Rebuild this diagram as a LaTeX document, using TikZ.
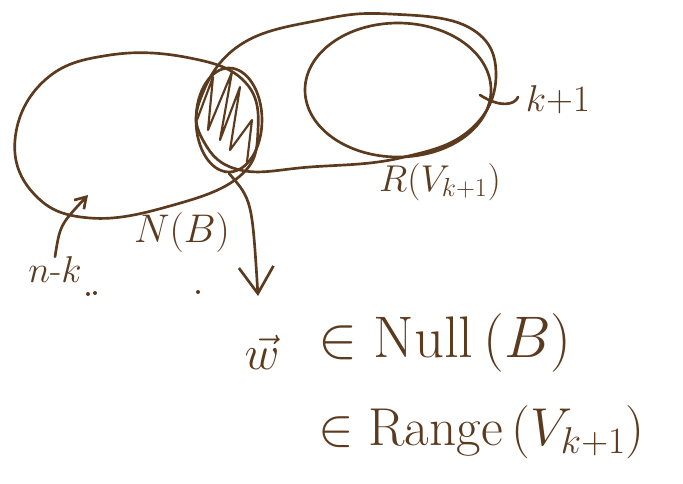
\documentclass[tikz,border=0pt]{standalone}
\usepackage{fix-cm}
\usepackage{fontspec}
\usetikzlibrary{arrows.meta,shapes.geometric}
\definecolor{ink}{HTML}{5B3A1E}
\tikzset{
  pen/.style={draw=ink, line width=2pt, line cap=round, line join=round},
  hand/.style={text=ink, inner sep=0pt},
  dotmark/.style={fill=ink, circle, inner sep=0pt, minimum size=3pt}
}
\begin{document}
\begin{tikzpicture}[x=0.75pt,y=-0.75pt]
\useasboundingbox (0,0) rectangle (683,483);
% left blob N(B)
\draw[pen] plot[smooth cycle, tension=0.7] coordinates {(245,82) (190,58) (110,55) (45,80) (15,140) (35,195) (90,218) (170,206) (240,176) (258,130)};
% big oval R(V_{k+1})
\draw[pen] plot[smooth cycle, tension=0.7] coordinates {(200,100) (240,45) (320,20) (390,14) (470,28) (496,75) (470,130) (400,158) (310,167) (240,170) (204,142)};
% inner circle k+1
\node[pen, ellipse, minimum width=139.5pt, minimum height=100.5pt] (inner) at (398,90) {};
% shaded intersection
\node[pen, ellipse, minimum width=49.5pt, minimum height=78pt] (shade) at (229,120) {};
\draw[pen, line width=1.6pt] (197,120) -- (213,77) -- (208,130) -- (232,72) -- (220,140) -- (240,87) -- (230,150) -- (252,120) -- (247,162);
% arrow down to V
\coordinate (vtip) at (258,296);
\draw[pen, -{Straight Barb[length=20pt,width=26pt,line width=2pt]}] (shade.south) .. controls (252,200) .. (vtip);
% labels
\node[hand, font=\fontsize{28}{32}\selectfont] (nk) at (55,270) {$n$-$k$};
\coordinate (nkend) at (88,195);
\draw[pen, -{Straight Barb[length=8pt,width=10pt]}] (nk.north) .. controls (60,225) .. (nkend);
\node[hand, font=\fontsize{30}{34}\selectfont] (NB) at (182,232) {$N(B)$};
\node[hand, font=\fontsize{28}{32}\selectfont] (RV) at (440,182) {$R(V_{k+1})$};
\node[hand, font=\fontsize{28}{32}\selectfont] (k1) at (558,100) {$k{+}1$};
\coordinate (kstart) at (480,95);
\draw[pen] (kstart) .. controls (500,108) and (515,105) .. (518,97);
\node[hand, font=\fontsize{36}{42}\selectfont] (w) at (262,352) {$\vec{w}$};
\node[hand, font=\fontsize{44}{50}\selectfont, anchor=west] (null) at (318,343) {$\in \mathrm{Null}\,(B)$};
\node[hand, font=\fontsize{40}{46}\selectfont, anchor=west] (range) at (318,432) {$\in \mathrm{Range}\,(V_{k+1})$};
% stray dots
\node[dotmark] (d1) at (95,293) {};
\node[dotmark] (d2) at (88,294) {};
\node[dotmark] (d3) at (198,292) {};
\end{tikzpicture}
\end{document}
